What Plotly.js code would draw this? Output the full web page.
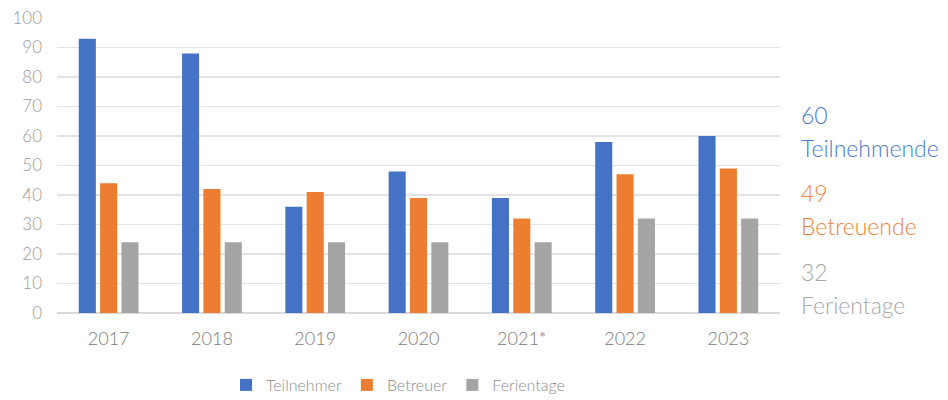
<!DOCTYPE html>
<html>
<head>
<meta charset="utf-8">
<script src="https://cdn.plot.ly/plotly-3.0.1.min.js"></script>
<style>html,body{margin:0;padding:0;background:#fff}#chart{width:948px;height:400px}</style>
</head>
<body>
<div id="chart"></div>
<script>
const years = ["2017", "2018", "2019", "2020", "2021*", "2022", "2023"];
const teilnehmer = [93, 88, 36, 48, 39, 58, 60];
const betreuer = [44, 42, 41, 39, 32, 47, 49];
const ferientage = [24, 24, 24, 24, 24, 32, 32];
const seriesNames = ["Teilnehmer", "Betreuer", "Ferientage"];
const summaryValues = ["60", "49", "32"];
const summaryLabels = ["Teilnehmende", "Betreuende", "Ferientage"];
const colors = ["#4472C4", "#ED7D31", "#A5A5A5"];
const textColors = ["#4a7bd0", "#f0803e", "#a8a8a8"];

const font = "Lato, 'Open Sans', sans-serif";
const data = [teilnehmer, betreuer, ferientage].map((vals, i) => ({
  type: "bar", x: years, y: vals, name: seriesNames[i],
  marker: {color: colors[i]}, hoverinfo: "skip"
}));

const annotations = [];
const valueY = [115, 193, 272];
summaryValues.forEach((v, i) => {
  const base = valueY[i];
  annotations.push({xref: "paper", yref: "paper", x: (799 - 57) / 723, y: (313 - base) / 295,
    xanchor: "left", yanchor: "middle", text: v, showarrow: false,
    font: {family: font, size: 23, weight: 300, color: textColors[i]}});
  annotations.push({xref: "paper", yref: "paper", x: (799 - 57) / 723, y: (313 - base - 33) / 295,
    xanchor: "left", yanchor: "middle", text: summaryLabels[i], showarrow: false,
    font: {family: font, size: 23, weight: 300, color: textColors[i]}});
});

const layout = {
  width: 948, height: 400,
  margin: {l: 57, r: 168, t: 18, b: 87, autoexpand: false},
  paper_bgcolor: "#fff", plot_bgcolor: "#fff",
  barmode: "group", bargap: 0.38, bargroupgap: 0.2,
  font: {family: font, color: "#8c8c8c"},
  xaxis: {type: "category", showgrid: false, zeroline: false, showline: false,
    ticks: "", ticklabelstandoff: 13, tickfont: {size: 18, weight: 300, color: "#7a7a7a"}},
  yaxis: {range: [0, 100], dtick: 10, showgrid: true, gridcolor: "#e3e3e3", gridwidth: 1.5,
    zeroline: true, zerolinecolor: "#d9d9d9", zerolinewidth: 1.5, showline: false, ticks: "",
    ticklabelstandoff: 14, tickfont: {size: 17, weight: 300, color: "#9a9a9a"}},
  legend: {orientation: "h", x: (398 - 57) / 723, xanchor: "center", y: (313 - 385) / 295, yanchor: "middle",
    font: {size: 16, weight: 300, color: "#8c8c8c"}, itemwidth: 30, traceorder: "normal"},
  annotations: annotations,
  showlegend: true
};
Plotly.newPlot("chart", data, layout, {displayModeBar: false, staticPlot: true});
</script>
</body>
</html>
